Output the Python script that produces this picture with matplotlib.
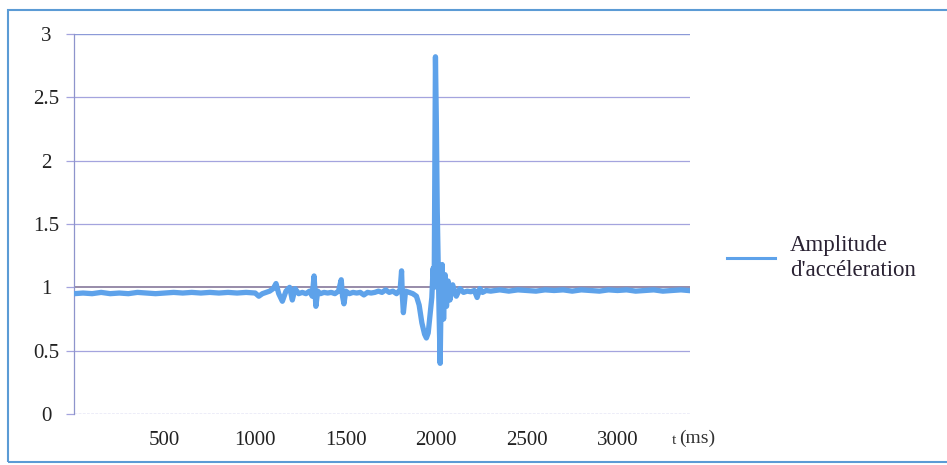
import numpy as np
import matplotlib

matplotlib.use("Agg")
import matplotlib.pyplot as plt
from matplotlib.patches import Rectangle

plt.rcParams["font.family"] = ["Liberation Serif", "DejaVu Serif"]

# --- data (t in ms, amplitude in g) ---
t_flat_left = [0, 50, 100, 150, 200, 250, 300, 350, 400, 450, 500, 550, 600,
               650, 700, 750, 800, 850, 900, 950, 1000]
a_flat_left = [0.95, 0.955, 0.95, 0.96, 0.95, 0.955, 0.95, 0.96, 0.955, 0.95,
               0.955, 0.96, 0.955, 0.96, 0.955, 0.96, 0.955, 0.96, 0.955, 0.96, 0.955]

t_event = [1020, 1040, 1060, 1080, 1100, 1115, 1130, 1150, 1170, 1190, 1205,
           1220, 1240, 1260, 1280, 1300, 1315, 1325, 1335, 1345, 1360, 1380,
           1400, 1420, 1440, 1460, 1475, 1482, 1490, 1500, 1520, 1540, 1560,
           1580, 1600, 1620, 1640, 1660, 1680, 1700, 1720, 1740, 1760, 1780,
           1800, 1808, 1812, 1818, 1830, 1850, 1870, 1890, 1905, 1920, 1935,
           1945, 1955, 1965, 1975, 1982, 1988, 1995, 2000, 2005, 2010, 2015,
           2021, 2026, 2032, 2040, 2048, 2056, 2065, 2075, 2090, 2110, 2130,
           2150, 2170, 2190, 2210, 2225, 2240, 2255, 2275, 2300]
a_event = [0.93, 0.95, 0.96, 0.97, 0.99, 1.03, 0.95, 0.89, 0.97, 1.0, 0.9,
           0.99, 0.95, 0.96, 0.95, 0.97, 0.93, 1.09, 0.85, 0.97, 0.95, 0.96,
           0.955, 0.96, 0.95, 0.97, 1.06, 0.93, 0.87, 0.97, 0.95, 0.96, 0.955,
           0.96, 0.94, 0.96, 0.955, 0.96, 0.97, 0.96, 0.98, 0.96, 0.97, 0.95,
           0.98, 1.13, 0.94, 0.80, 0.97, 0.96, 0.95, 0.93, 0.86, 0.72, 0.63,
           0.60, 0.64, 0.78, 0.92, 1.15, 1.0, 2.82, 2.3, 1.6, 1.2, 0.8,
           0.40, 0.9, 1.18, 0.75, 1.1, 0.85, 1.05, 0.9, 1.02, 0.93, 0.99,
           0.96, 0.97, 0.965, 0.975, 0.92, 0.99, 0.96, 0.975, 0.97]

t_flat_right = [2350, 2400, 2450, 2500, 2550, 2600, 2650, 2700, 2750, 2800,
                2850, 2900, 2950, 3000, 3050, 3100, 3150, 3200, 3250, 3300, 3350, 3390]
a_flat_right = [0.98, 0.97, 0.98, 0.975, 0.97, 0.98, 0.975, 0.98, 0.97, 0.98,
                0.975, 0.97, 0.98, 0.975, 0.98, 0.97, 0.975, 0.98, 0.97, 0.975, 0.98, 0.975]

t = np.array(t_flat_left + t_event + t_flat_right)
amp = np.array(a_flat_left + a_event + a_flat_right)

y_ticks = [0, 0.5, 1, 1.5, 2, 2.5, 3]
y_labels = ["0", "0.5", "1", "1.5", "2", "2.5", "3"]
x_ticks = [500, 1000, 1500, 2000, 2500, 3000]

# --- figure ---
W, H = 947, 465
fig = plt.figure(figsize=(W / 100, H / 100), dpi=100)
ax = fig.add_axes([74 / W, 1 - 414 / H, (690 - 74) / W, (414 - 34) / H])

grid_col = "#a4a4de"
for yv in y_ticks:
    if yv == 0:
        ax.axhline(yv, color=grid_col, lw=1.0, ls=(0, (2, 1)), zorder=1)
    elif yv == 1:
        ax.axhline(yv, color="#7a6c92", lw=1.1, zorder=1)
    elif yv == 3:
        ax.axhline(yv, color="#8c9ad8", lw=1.0, zorder=1)
    else:
        ax.axhline(yv, color=grid_col, lw=0.9, zorder=1)

ax.plot(t, amp, color="#5ea2ea", lw=3.8, solid_joinstyle="round",
        label="Amplitude\nd'accéleration", zorder=3)

ax.set_xlim(0, 3400)
ax.set_ylim(0, 3)
for side in ["top", "right", "bottom"]:
    ax.spines[side].set_visible(False)
ax.spines["left"].set_color("#8e94cc")
ax.spines["left"].set_linewidth(0.9)

ax.set_yticks(y_ticks)
ax.set_yticklabels(y_labels, ha="center")
ax.tick_params(axis="y", length=6, width=0.9, color=grid_col, pad=14,
               labelsize=15, labelcolor="#222222")
ax.set_xticks(x_ticks)
ax.set_xticklabels([str(v) for v in x_ticks])
ax.tick_params(axis="x", length=0, pad=12, labelsize=15, labelcolor="#222222")

# axis unit label under the right end
fig.text(672 / W, 1 - 440 / H, "t", fontsize=11, ha="left", va="center", color="#333333")
fig.text(679 / W, 1 - 438 / H, "(ms)", fontsize=14, ha="left", va="center", color="#333333")

leg = ax.legend(loc="center left", bbox_to_anchor=(718 / W, 1 - 258 / H),
                bbox_transform=fig.transFigure, frameon=False, fontsize=16.5,
                handlelength=2.1, handletextpad=0.65, borderaxespad=0)
for txt in leg.get_texts():
    txt.set_color("#2a2233")
for h in leg.legend_handles:
    h.set_linewidth(2.2)

# outer chart border (runs off the right edge of the scan)
fig.patches.append(Rectangle((8 / W, 3 / H), 1.05, 1 - 13 / H, transform=fig.transFigure,
                             fill=False, edgecolor="#5b9bd5", lw=1.5, clip_on=False))

fig.savefig("out.png", dpi=100)
